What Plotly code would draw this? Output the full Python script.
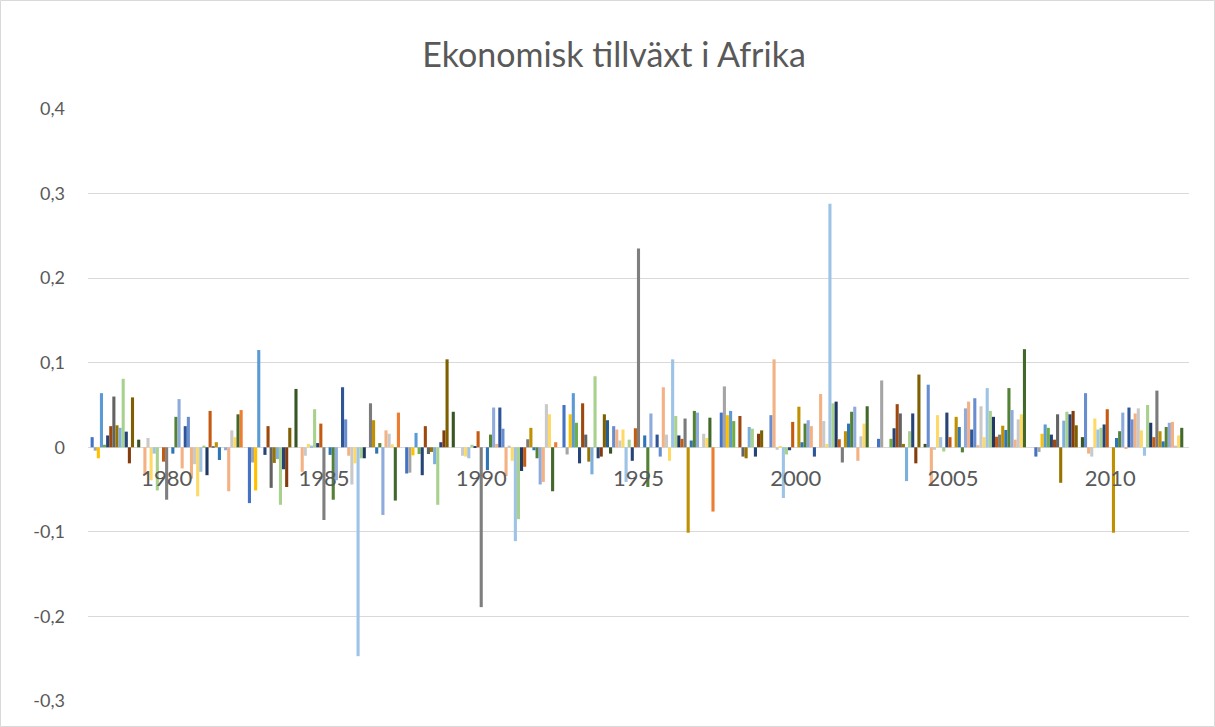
import plotly.graph_objects as go

# Categories (five-year periods shown on the x axis)
periods = ["1980", "1985", "1990", "1995", "2000", "2005", "2010"]

# Growth per country (49 series) for each period; None = no value
v1980 = [0.012, -0.004, -0.013, 0.064, 0.003, 0.014, 0.025, 0.060, 0.026, 0.023,
         0.081, 0.0185, -0.019, 0.059, None, 0.009, None, -0.033, 0.011, -0.039,
         -0.0075, -0.051, None, -0.017, -0.062, None, -0.0075, 0.036, 0.057, -0.025,
         0.025, 0.036, -0.037, -0.020, -0.058, -0.029, 0.002, -0.033, 0.043, 0.001,
         0.006, -0.015, None, -0.0035, -0.052, 0.020, 0.012, 0.039, 0.044]
v1985 = [-0.066, -0.018, -0.051, 0.115, None, -0.009, 0.025, -0.048, -0.0185, -0.014,
         -0.068, -0.026, -0.047, 0.023, None, 0.069, None, -0.029, -0.010, 0.004,
         0.002, 0.045, 0.005, 0.028, -0.086, None, -0.009, -0.062, -0.039, None,
         0.071, 0.033, -0.010, -0.044, -0.019, -0.247, -0.013, -0.013, None, 0.052,
         0.032, -0.0075, 0.005, -0.080, 0.020, 0.016, 0.0035, -0.063, 0.041]
v1990 = [-0.031, -0.030, -0.0095, 0.017, -0.008, -0.033, 0.025, -0.008, -0.0055, -0.020,
         -0.068, 0.006, 0.020, 0.104, None, 0.042, None, None, -0.010, -0.011,
         -0.013, 0.003, 0.001, 0.019, -0.189, None, -0.027, 0.015, 0.047, 0.004,
         0.047, 0.022, -0.034, 0.002, -0.016, -0.111, -0.085, -0.028, -0.023, 0.0095,
         0.023, -0.0035, -0.013, -0.044, -0.041, 0.051, 0.039, -0.052, 0.006]
v1995 = [0.050, -0.0085, 0.039, 0.064, 0.029, -0.019, 0.052, 0.015, -0.017, -0.032,
         0.084, -0.013, -0.011, 0.039, 0.032, -0.0075, 0.025, 0.021, 0.008, 0.021,
         -0.041, 0.009, -0.016, 0.0225, 0.235, None, 0.014, -0.047, 0.040, None,
         0.015, -0.011, 0.071, 0.015, -0.016, 0.104, 0.037, 0.014, 0.010, 0.034,
         -0.101, 0.008, 0.043, 0.041, None, 0.016, 0.011, 0.035, -0.076]
v2000 = [0.041, 0.072, 0.038, 0.043, 0.031, None, 0.037, -0.011, -0.013, 0.024,
         0.022, -0.011, 0.016, 0.020, None, None, 0.038, 0.104, -0.003, 0.001,
         -0.060, -0.0085, -0.0035, 0.030, None, 0.048, 0.006, 0.028, 0.032, 0.025,
         -0.011, None, 0.063, 0.031, 0.004, 0.288, 0.052, 0.054, 0.0095, -0.018,
         0.019, 0.028, 0.042, 0.048, -0.016, 0.013, 0.028, 0.0485, None]
v2005 = [0.010, 0.079, None, None, 0.010, 0.0225, 0.051, 0.040, 0.004, -0.040,
         0.019, 0.040, -0.019, 0.086, None, 0.004, 0.074, -0.044, -0.003, 0.038,
         0.012, -0.005, 0.041, 0.012, None, 0.036, 0.024, -0.006, 0.046, 0.054,
         0.021, 0.058, 0.0025, 0.0485, 0.012, 0.070, 0.043, 0.036, 0.0125, 0.015,
         0.0255, 0.0205, 0.070, 0.044, 0.009, 0.033, 0.039, 0.116, None]
v2010 = [-0.011, -0.0055, 0.016, 0.027, 0.023, 0.015, 0.009, 0.039, -0.042, 0.0315,
         0.042, 0.039, 0.043, 0.026, None, 0.012, 0.064, -0.0075, -0.011, 0.034,
         0.021, 0.023, 0.027, 0.045, None, -0.101, 0.011, 0.019, 0.041, -0.002,
         0.047, 0.033, 0.040, 0.046, 0.020, -0.010, 0.050, 0.029, 0.012, 0.067,
         0.019, 0.007, 0.024, 0.029, 0.030, 0.002, 0.014, 0.023, None]

y_tickvals = [-0.3, -0.2, -0.1, 0, 0.1, 0.2, 0.3, 0.4]
y_ticktext = ["-0,3", "-0,2", "-0,1", "0", "0,1", "0,2", "0,3", "0,4"]

# Style: one colour per series (Office-like palette)
series_colors = [
    "#4472C4", "#A5A5A5", "#FFC000", "#5B9BD5", "#70AD47", "#264478", "#9E480E", "#636363",
    "#997300", "#7CAFDD", "#A9D18E", "#264478", "#843C0C", "#7F6000", "#255E91", "#375623",
    "#698ED0", "#F4B183", "#C9C9C9", "#FFD966", "#9DC3E6", "#A9D18E", "#264478", "#C55A11",
    "#7F7F7F", "#BF9000", "#2E75B6", "#548235", "#8FAADC", "#F4B183", "#2F5597", "#698ED0",
    "#F4B183", "#C9C9C9", "#FFD966", "#9DC3E6", "#A9D18E", "#203864", "#C55A11", "#7B7B7B",
    "#BF9000", "#2E75B6", "#548235", "#8FAADC", "#F4B183", "#C9C9C9", "#FFD966", "#43682B",
    "#ED7D31",
]

values_by_period = [v1980, v1985, v1990, v1995, v2000, v2005, v2010]
n_series = len(v1980)

fig = go.Figure()
for s in range(n_series):
    fig.add_trace(go.Bar(
        x=periods,
        y=[vals[s] for vals in values_by_period],
        name=f"Serie {s + 1}",
        marker=dict(color=series_colors[s], line=dict(width=0)),
        showlegend=False,
    ))

W, H = 1215, 727
L, R, T, B = 88, 26, 109, 26
pw, ph = W - L - R, H - T - B

fig.update_layout(
    width=W, height=H,
    margin=dict(l=L, r=R, t=T, b=B, pad=0),
    paper_bgcolor="white", plot_bgcolor="white",
    barmode="group", bargap=0.033, bargroupgap=0,
    font=dict(family="Lato", color="#595959"),
    title=dict(text="Ekonomisk tillväxt i Afrika", x=614 / W, xanchor="center",
               y=1 - 55 / H, yanchor="middle",
               font=dict(family="Lato", size=34, color="#595959")),
    showlegend=False,
    shapes=[dict(type="rect", xref="paper", yref="paper",
                 x0=(0.5 - L) / pw, x1=(W - 0.5 - L) / pw,
                 y0=(H - B - (H - 0.5)) / ph, y1=(H - B - 0.5) / ph,
                 line=dict(color="#D9D9D9", width=1), fillcolor="rgba(0,0,0,0)",
                 layer="below")],
)
fig.update_yaxes(
    range=[-0.3, 0.4], tickvals=y_tickvals, ticktext=y_ticktext,
    showgrid=True, gridcolor="#D9D9D9", gridwidth=1,
    zeroline=True, zerolinecolor="#D9D9D9", zerolinewidth=1,
    showline=False, ticks="", tickfont=dict(family="Lato", size=18, color="#595959"),
    ticklabelstandoff=22,
)
fig.update_xaxes(
    type="category", anchor="free", position=0.3 / 0.7,
    showline=False, showgrid=False, zeroline=False, ticks="",
    tickfont=dict(family="Lato", size=22, color="#595959"),
    ticklabelstandoff=16,
)

fig.write_html("out.html")
